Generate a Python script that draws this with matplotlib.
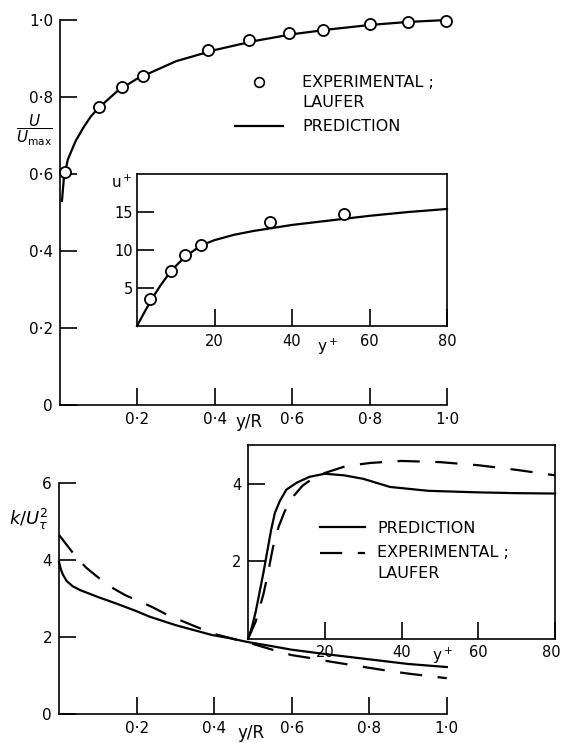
import matplotlib
matplotlib.use("Agg")
import matplotlib.pyplot as plt
from matplotlib.lines import Line2D
from matplotlib.legend_handler import HandlerLine2D
from matplotlib.transforms import Affine2D, ScaledTranslation

plt.rcParams['font.family'] = ['DejaVu Sans']
plt.rcParams['mathtext.fontset'] = 'dejavusans'

# mean velocity across the pipe, U/Umax against y/R
vel_exp_x = [0.013, 0.10, 0.16, 0.215, 0.383, 0.489, 0.592, 0.68, 0.80, 0.90, 0.997]
vel_exp_y = [0.605, 0.774, 0.826, 0.855, 0.922, 0.948, 0.966, 0.974, 0.99, 0.995, 0.997]
vel_pred_x = [0.005, 0.01, 0.02, 0.04, 0.06, 0.08, 0.10, 0.15, 0.20, 0.30, 0.40, 0.50, 0.60, 0.70, 0.80, 0.90, 1.0]
vel_pred_y = [0.53, 0.59, 0.637, 0.685, 0.72, 0.75, 0.772, 0.817, 0.848, 0.893, 0.922, 0.945, 0.963, 0.976, 0.987, 0.995, 1.0]

# wall region, u+ against y+
uplus_exp_x = [3.4, 8.8, 12.5, 16.6, 34.3, 53.5]
uplus_exp_y = [3.5, 7.3, 9.3, 10.7, 13.7, 14.7]
uplus_pred_x = [0, 2, 4, 6, 8, 10, 12, 14, 16, 18, 20, 25, 30, 40, 50, 60, 70, 80]
uplus_pred_y = [0, 1.9, 3.7, 5.3, 6.7, 7.9, 8.9, 9.7, 10.4, 10.9, 11.3, 12.0, 12.5, 13.3, 13.9, 14.5, 15.0, 15.4]

# turbulence energy k/U_tau^2 against y/R
k_pred_x = [0, 0.005, 0.01, 0.02, 0.035, 0.054, 0.1, 0.15, 0.2, 0.233, 0.3, 0.395, 0.44, 0.486, 0.55, 0.6, 0.7, 0.8, 0.9, 1.0]
k_pred_y = [3.95, 3.75, 3.62, 3.45, 3.32, 3.22, 3.04, 2.86, 2.67, 2.53, 2.31, 2.05, 1.97, 1.87, 1.76, 1.67, 1.54, 1.42, 1.30, 1.22]
k_exp_x = [0, 0.04, 0.07, 0.125, 0.17, 0.24, 0.28, 0.35, 0.4, 0.45, 0.5, 0.55, 0.6, 0.65, 0.7, 0.75, 0.8, 0.85, 0.9, 0.95, 1.0]
k_exp_y = [4.65, 4.13, 3.8, 3.35, 3.09, 2.78, 2.57, 2.28, 2.08, 1.95, 1.82, 1.67, 1.53, 1.45, 1.36, 1.28, 1.2, 1.12, 1.05, 0.99, 0.93]

# wall region, k/U_tau^2 against y+
kplus_pred_x = [0, 1, 2, 3, 4, 5, 6, 7, 8.3, 10, 12.7, 16, 20, 25, 30, 37, 47, 60, 70, 80]
kplus_pred_y = [0, 0.3, 0.7, 1.2, 1.7, 2.25, 2.8, 3.25, 3.56, 3.85, 4.03, 4.18, 4.26, 4.22, 4.13, 3.92, 3.82, 3.78, 3.76, 3.75]
kplus_exp_x = [0, 2, 4, 5, 6.5, 8, 9.6, 12, 14.2, 17, 20, 25.6, 32, 40, 50, 60, 70, 80]
kplus_exp_y = [0, 0.45, 1.15, 1.6, 2.36, 2.9, 3.3, 3.7, 3.95, 4.15, 4.28, 4.46, 4.54, 4.59, 4.56, 4.48, 4.36, 4.22]

yr_ticks = [0.2, 0.4, 0.6, 0.8, 1.0]
yr_labels = ['0·2', '0·4', '0·6', '0·8', '1·0']
vel_ticks = [0, 0.2, 0.4, 0.6, 0.8, 1.0]
vel_labels = ['0', '0·2', '0·4', '0·6', '0·8', '1·0']
uplus_ticks = [5, 10, 15]
yplus_ticks = [20, 40, 60, 80]
k_ticks = [0, 2, 4, 6]
kplus_ticks = [2, 4]

EXP_LABEL = 'EXPERIMENTAL ;\nLAUFER'
PRED_LABEL = 'PREDICTION'

LW = 1.6
DASH = (10, 7)
LEG_SIZE = 11.5


class FirstLineHandler(HandlerLine2D):
    # lift the key so it sits level with the first line of a two-line label
    def create_artists(self, legend, orig_handle, xdescent, ydescent,
                       width, height, fontsize, trans):
        lift = Affine2D().translate(0, 0.68 * fontsize)
        return super().create_artists(legend, orig_handle, xdescent, ydescent,
                                      width, height, fontsize, lift + trans)


def style(ax, box=False, size=11):
    ax.spines['top'].set_visible(box)
    ax.spines['right'].set_visible(box)
    for s in ax.spines.values():
        s.set_linewidth(1.2)
    ax.tick_params(direction='in', length=12, width=1.2, labelsize=size, pad=5)
    ax.set_facecolor('none')


fig = plt.figure(figsize=(5.62, 7.43), dpi=100)

# upper plot: velocity profile
ax1 = fig.add_axes([0.1068, 0.4549, 0.6886, 0.5182])
style(ax1)
ax1.plot(vel_pred_x, vel_pred_y, color='k', lw=LW, clip_on=False)
ax1.plot(vel_exp_x, vel_exp_y, 'o', ms=8, mfc='white', mec='k', mew=1.3, clip_on=False)
ax1.set_xlim(0, 1)
ax1.set_ylim(0, 1)
ax1.set_xticks(yr_ticks, labels=yr_labels)
ax1.set_yticks(vel_ticks, labels=vel_labels)
ax1.set_xlabel('y/R', fontsize=12, ha='center', va='top')
ax1.xaxis.set_label_coords(0.488, -0.021)
ax1.set_ylabel(r'$\dfrac{U}{U_{\mathrm{max}}}$', fontsize=11, rotation=0, ha='center', va='center')
ax1.yaxis.set_label_coords(-0.066, 0.714)

h_exp = Line2D([], [], marker='o', ls='none', ms=7, mfc='white', mec='k', mew=1.2)
h_pred = Line2D([], [], color='k', lw=LW)
leg1 = ax1.legend([h_exp, h_pred], [EXP_LABEL, PRED_LABEL], loc='upper left',
                  bbox_to_anchor=(0.418, 0.899), bbox_transform=fig.transFigure,
                  frameon=False, fontsize=LEG_SIZE, numpoints=1, borderpad=0, borderaxespad=0,
                  handlelength=3.0, handletextpad=1.2, labelspacing=0.6,
                  handler_map={h_exp: FirstLineHandler()})
for t in leg1.get_texts():
    t.set_linespacing(1.4)

# inset: u+ near the wall
ax2 = fig.add_axes([0.2438, 0.5612, 0.5516, 0.2046])
style(ax2, box=True, size=10.5)
ax2.plot(uplus_pred_x, uplus_pred_y, color='k', lw=LW, clip_on=False)
ax2.plot(uplus_exp_x, uplus_exp_y, 'o', ms=8, mfc='white', mec='k', mew=1.3, clip_on=False)
ax2.set_xlim(0, 80)
ax2.set_ylim(0, 20)
ax2.set_xticks(yplus_ticks)
ax2.set_yticks(uplus_ticks)
ax2.tick_params(axis='x', pad=6)
ax2.tick_params(axis='y', pad=3)
ax2.set_xlabel(r'y$^+$', fontsize=11, ha='center', va='top')
ax2.xaxis.set_label_coords(0.613, -0.072)
ax2.set_ylabel(r'u$^+$', fontsize=11, rotation=0, ha='center', va='center')
ax2.yaxis.set_label_coords(-0.05, 0.947)

# lower plot: turbulence energy
ax3 = fig.add_axes([0.105, 0.039, 0.690, 0.311])
style(ax3)
ax3.plot(k_pred_x, k_pred_y, color='k', lw=LW, clip_on=False)
ax3.plot(k_exp_x, k_exp_y, color='k', lw=LW, dashes=DASH, clip_on=False)
ax3.set_xlim(0, 1)
ax3.set_ylim(0, 6)
ax3.set_xticks(yr_ticks, labels=yr_labels)
ax3.set_yticks(k_ticks)
ax3.set_xlabel('y/R', fontsize=12, ha='center', va='top')
ax3.xaxis.set_label_coords(0.495, -0.042)
ax3.set_ylabel(r'$k/U_\tau^2$', fontsize=13, rotation=0, ha='center', va='center')
ax3.yaxis.set_label_coords(-0.077, 0.84)

# inset: k near the wall
ax4 = fig.add_axes([0.4413, 0.140, 0.5463, 0.261])
style(ax4, box=True, size=10.5)
ax4.plot(kplus_pred_x, kplus_pred_y, color='k', lw=LW, clip_on=False)
ax4.plot(kplus_exp_x, kplus_exp_y, color='k', lw=LW, dashes=DASH, clip_on=False)
ax4.set_xlim(0, 80)
ax4.set_ylim(0, 5)
ax4.set_xticks(yplus_ticks)
ax4.set_yticks(kplus_ticks)
ax4.tick_params(axis='x', pad=4)
# last label sits against the figure edge
last = ax4.get_xticklabels()[-1]
last.set_horizontalalignment('right')
last.set_transform(last.get_transform() + ScaledTranslation(6 / 100, 0, fig.dpi_scale_trans))
ax4.set_xlabel(r'y$^+$', fontsize=11, ha='center', va='top')
ax4.xaxis.set_label_coords(0.632, -0.036)

k_pred_h = Line2D([], [], color='k', lw=LW)
k_exp_h = Line2D([], [], color='k', lw=LW, dashes=DASH)
leg4 = ax4.legend([k_pred_h, k_exp_h], [PRED_LABEL, EXP_LABEL], loc='upper left',
                  bbox_to_anchor=(0.569, 0.299), bbox_transform=fig.transFigure,
                  frameon=False, fontsize=LEG_SIZE, borderpad=0, borderaxespad=0,
                  handlelength=2.8, handletextpad=0.8, labelspacing=0.6,
                  handler_map={k_exp_h: FirstLineHandler()})
for t in leg4.get_texts():
    t.set_linespacing(1.5)

fig.savefig('out.png', dpi=100)
